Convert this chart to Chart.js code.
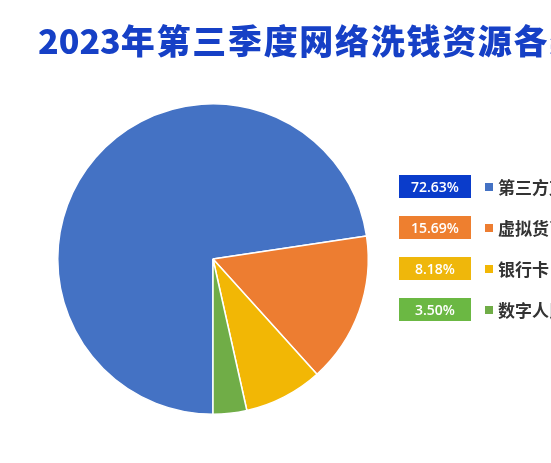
<!DOCTYPE html>
<html>
<head>
<meta charset="utf-8">
<script src="https://cdn.jsdelivr.net/npm/chart.js@4/dist/chart.umd.min.js"></script>
<style>
    html, body {
        margin: 0;
        padding: 0;
        background: #ffffff;
    }
    body {
        width: 551px;
        height: 463px;
        overflow: hidden;
        position: relative;
        font-family: "Noto Sans CJK SC", "Noto Sans", sans-serif;
    }
    #chartBox {
        position: absolute;
        left: 0;
        top: 0;
        width: 551px;
        height: 463px;
    }
    #title {
        position: absolute;
        left: 38px;
        top: 23px;
        font-size: 34px;
        line-height: 1;
        font-weight: 900;
        color: #1640c6;
        white-space: nowrap;
        letter-spacing: 1.7px;
    }
    #title .year {
        letter-spacing: 0;
    }
    .row {
        position: absolute;
        left: 399px;
        height: 23px;
        display: flex;
        align-items: center;
        white-space: nowrap;
    }
    .pct {
        width: 72px;
        height: 23px;
        line-height: 23px;
        text-align: center;
        color: #ffffff;
        font-size: 14px;
        font-family: "Open Sans", "Noto Sans", sans-serif;
        font-weight: 600;
    }
    .mark {
        width: 8px;
        height: 8px;
        margin-left: 14px;
        margin-right: 5px;
    }
    .name {
        font-size: 17px;
        font-weight: 700;
        color: #333333;
    }
</style>
</head>
<body>
<div id="chartBox"><canvas id="pieChart"></canvas></div>
<div id="title"><span class="year">2023</span>年第三季度网络洗钱资源各类占比</div>
<div id="legend"></div>

<script>
const categories = ["第三方支付", "虚拟货币", "银行卡", "数字人民币"];
const shares = [72.63, 15.69, 8.18, 3.50];
const shareLabels = ["72.63%", "15.69%", "8.18%", "3.50%"];
const sliceColors = ["#4472c4", "#ed7d31", "#f2b705", "#70ad47"];
const boxColors = ["#0a3ccb", "#ee7f2f", "#efb70b", "#6bb843"];

function buildLegend() {
    const legend = document.getElementById("legend");
    categories.forEach((name, i) => {
        const row = document.createElement("div");
        row.className = "row";
        row.style.top = `${175 + i * 41}px`;
        row.innerHTML =
            `<div class="pct" style="background:${boxColors[i]}">${shareLabels[i]}</div>` +
            `<div class="mark" style="background:${sliceColors[i]}"></div>` +
            `<div class="name">${name}</div>`;
        legend.appendChild(row);
    });
}

let pieChart;

function buildChart() {
    pieChart = new Chart(document.getElementById("pieChart"), {
        type: "pie",
        data: {
            labels: categories,
            datasets: [{
                data: shares,
                backgroundColor: sliceColors,
                borderColor: "#ffffff",
                borderWidth: 1.5
            }]
        },
        options: {
            responsive: true,
            maintainAspectRatio: false,
            animation: false,
            rotation: 180,
            layout: {
                padding: { left: 57, right: 182, top: 103, bottom: 48 }
            },
            plugins: {
                legend: { display: false },
                tooltip: { enabled: false }
            }
        }
    });
}

window.addEventListener("DOMContentLoaded", () => {
    buildLegend();
    buildChart();
});
</script>
</body>
</html>
